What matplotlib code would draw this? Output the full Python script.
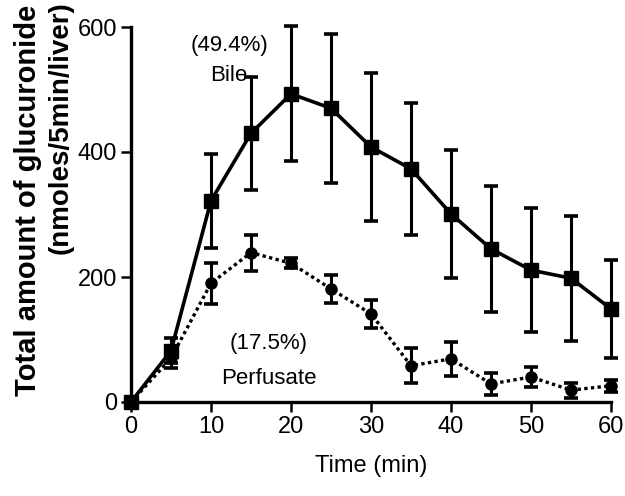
import matplotlib
matplotlib.use("Agg")
import matplotlib.pyplot as plt

# data
time_min = [0, 5, 10, 15, 20, 25, 30, 35, 40, 45, 50, 55, 60]
bile = [0, 82, 322, 430, 493, 470, 408, 373, 301, 245, 211, 198, 149]
bile_err = [0, 20, 75, 90, 108, 119, 118, 105, 103, 101, 99, 100, 78]
perfusate = [0, 70, 190, 239, 222, 181, 141, 58, 69, 29, 40, 19, 26]
perfusate_err = [0, 15, 33, 29, 8, 22, 23, 28, 27, 18, 16, 12, 10]

x_ticks = [0, 10, 20, 30, 40, 50, 60]
y_ticks = [0, 200, 400, 600]

font = "Liberation Sans"

fig = plt.figure(figsize=(6.25, 4.96), dpi=100)
ax = fig.add_axes([131 / 625, 1 - 402 / 496, 480 / 625, 375 / 496])

ax.errorbar(time_min, bile, yerr=bile_err, color="black", lw=2.6, marker="s",
            ms=10, capsize=5, capthick=2.6, elinewidth=2.2, clip_on=False, zorder=3)
ax.errorbar(time_min, perfusate, yerr=perfusate_err, color="black", lw=2.4,
            ls=(0, (1, 1)), marker="o", ms=8, capsize=5, capthick=2.6,
            elinewidth=2.2, clip_on=False, zorder=3)

ax.set_xlim(0, 60)
ax.set_ylim(0, 600)
ax.set_xticks(x_ticks)
ax.set_yticks(y_ticks)
for s in ["top", "right"]:
    ax.spines[s].set_visible(False)
for s in ["left", "bottom"]:
    ax.spines[s].set_linewidth(2.4)
ax.tick_params(direction="out", length=7, width=1.8, pad=3)
for lab in ax.get_xticklabels() + ax.get_yticklabels():
    lab.set_fontfamily(font)
    lab.set_fontsize(17)

ax.set_xlabel("Time (min)", fontfamily=font, fontsize=17, labelpad=12)

fig.text(28 / 625, 1 - 200 / 496, "Total amount of glucuronide", rotation=90,
         ha="center", va="center", fontsize=21, fontweight="bold", fontfamily=font)
fig.text(61 / 625, 1 - 128 / 496, "(nmoles/5min/liver)", rotation=90,
         ha="center", va="center", fontsize=20, fontweight="bold", fontfamily=font)

ax.text(12.25, 571, "(49.4%)", ha="center", va="center", fontsize=16, fontfamily=font)
ax.text(12.25, 522, "Bile", ha="center", va="center", fontsize=16, fontfamily=font)
ax.text(17.25, 93, "(17.5%)", ha="center", va="center", fontsize=16, fontfamily=font)
ax.text(17.25, 38, "Perfusate", ha="center", va="center", fontsize=16, fontfamily=font)

fig.savefig("out.png", dpi=100)
